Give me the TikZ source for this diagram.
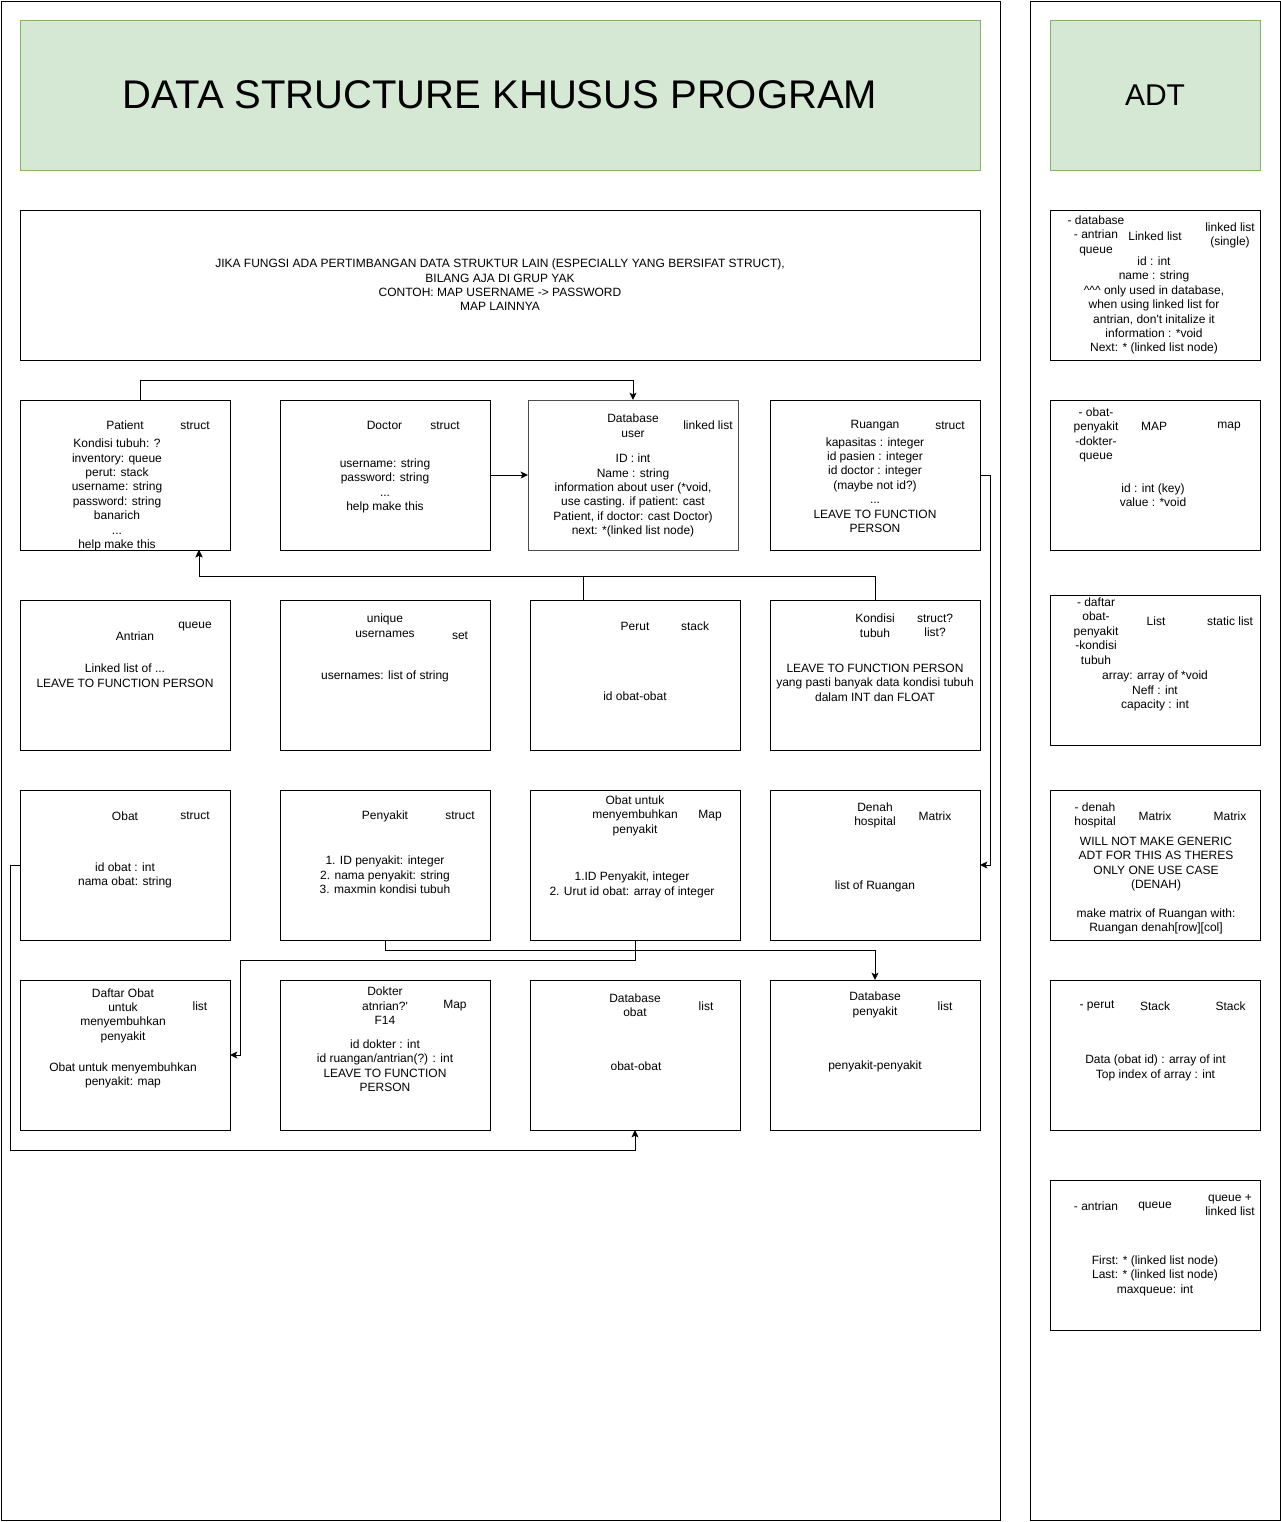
\documentclass[tikz,border=0pt]{standalone}
\usepackage{fontspec}
\setmainfont{Liberation Sans}
\usetikzlibrary{arrows.meta}
\definecolor{greenfill}{HTML}{D5E8D4}
\definecolor{greenline}{HTML}{82B366}
\begin{document}
\begin{tikzpicture}[x=0.75pt,y=-0.75pt,
  every node/.style={inner sep=0pt, outer sep=0pt},
  frame/.style={draw=black, line width=0.75pt},
  box/.style={draw=black, line width=0.75pt, minimum width=157.5pt, minimum height=112.5pt, anchor=north west},
  greenbox/.style={draw=greenline, fill=greenfill, line width=0.75pt, minimum height=112.5pt, anchor=north west},
  lbl/.style={font=\fontsize{9}{10.8}\selectfont, align=center},
  conn/.style={draw=black, line width=0.75pt, -{Stealth[length=5.5pt,width=5.2pt,inset=1.3pt]}}
]
\useasboundingbox (0,0) rectangle (1281,1522);
\fill[white] (0,0) rectangle (1281,1522);
% frames
\draw[frame] (1,1) rectangle (1000,1520);
\draw[frame] (1030,1) rectangle (1280,1520);
% headers
\node[greenbox, minimum width=720pt, font=\fontsize{30}{36}\selectfont] (title) at (20,20) {DATA STRUCTURE KHUSUS PROGRAM};
\node[greenbox, minimum width=157.5pt, font=\fontsize{22.5}{27}\selectfont] (adt) at (1050,20) {ADT};
\node[box, minimum width=720pt, lbl] (note) at (20,210) {JIKA FUNGSI ADA PERTIMBANGAN DATA STRUKTUR LAIN (ESPECIALLY YANG BERSIFAT STRUCT),\\BILANG AJA DI GRUP YAK\\CONTOH: MAP USERNAME -> PASSWORD\\MAP LAINNYA};
% grid boxes
\node[box] (patient) at (20,400) {};
\node[box] (doctor) at (280,400) {};
\node[box, draw=black!70] (dbuser) at (528,400) {};
\node[box] (ruangan) at (770,400) {};
\node[box] (antrian) at (20,600) {};
\node[box] (unique) at (280,600) {};
\node[box] (perut) at (530,600) {};
\node[box] (kondisi) at (770,600) {};
\node[box] (obat) at (20,790) {};
\node[box] (penyakit) at (280,790) {};
\node[box] (obatmap) at (530,790) {};
\node[box] (denah) at (770,790) {};
\node[box] (daftar) at (20,980) {};
\node[box] (dokter) at (280,980) {};
\node[box] (dbobat) at (530,980) {};
\node[box] (dbpenyakit) at (770,980) {};
% ADT boxes
\node[box] (a1) at (1050,210) {};
\node[box] (a2) at (1050,400) {};
\node[box] (a3) at (1050,595) {};
\node[box] (a4) at (1050,790) {};
\node[box] (a5) at (1050,980) {};
\node[box] (a6) at (1050,1180) {};
% texts row 1
\node[lbl] (patient-n) at (125,425.5) {Patient};
\node[lbl] (patient-k) at (195,425.5) {struct};
\node[lbl] (patient-b) at (117,495) {Kondisi tubuh: ?\\inventory: queue\\perut: stack\\username: string\\password: string\\banarich\\...\\help make this};
\node[lbl] (doctor-n) at (384.5,425.5) {Doctor};
\node[lbl] (doctor-k) at (445,425.5) {struct};
\node[lbl] (doctor-b) at (385,486) {username: string\\password: string\\...\\help make this};
\node[lbl] (dbuser-n) at (633,425.5) {Database\\user};
\node[lbl] (dbuser-k) at (708,425.5) {linked list};
\node[lbl] (dbuser-b) at (633,495.5) {ID : int\\Name : string\\information about user (*void,\\use casting. if patient: cast\\Patient, if doctor: cast Doctor)\\next: *(linked list node)};
\node[lbl] (ruangan-n) at (875,425.5) {Ruangan};
\node[lbl] (ruangan-k) at (950,425.5) {struct};
\node[lbl] (ruangan-b) at (875,485) {kapasitas : integer\\id pasien : integer\\id doctor : integer\\(maybe not id?)\\...\\LEAVE TO FUNCTION\\PERSON};
% row 2
\node[lbl] (antrian-k) at (195,626.5) {queue};
\node[lbl] (antrian-n) at (135,636) {Antrian};
\node[lbl] (antrian-b) at (125,675.5) {Linked list of ...\\LEAVE TO FUNCTION PERSON};
\node[lbl] (unique-n) at (385,625.5) {unique\\usernames};
\node[lbl] (unique-k) at (460,636) {set};
\node[lbl] (unique-b) at (385,676) {usernames: list of string};
\node[lbl] (perut-n) at (635,626) {Perut};
\node[lbl] (perut-k) at (695,626) {stack};
\node[lbl] (perut-b) at (635,696) {id obat-obat};
\node[lbl] (kondisi-n) at (875,625.5) {Kondisi\\tubuh};
\node[lbl] (kondisi-k) at (935,625.5) {struct?\\list?};
\node[lbl] (kondisi-b) at (875,682.5) {LEAVE TO FUNCTION PERSON\\yang pasti banyak data kondisi tubuh\\dalam INT dan FLOAT};
% row 3
\node[lbl] (obat-n) at (125,816) {Obat};
\node[lbl] (obat-k) at (195,816) {struct};
\node[lbl] (obat-b) at (125,875.5) {id obat : int\\nama obat: string};
\node[lbl] (penyakit-n) at (385,816) {Penyakit};
\node[lbl] (penyakit-k) at (460,816) {struct};
\node[lbl] (penyakit-b) at (385,875) {1. ID penyakit: integer\\2. nama penyakit: string\\3. maxmin kondisi tubuh};
\node[lbl] (obatmap-n) at (635,815.5) {Obat untuk\\menyembuhkan\\penyakit};
\node[lbl] (obatmap-k) at (710,816) {Map};
\node[lbl] (obatmap-b) at (632,885) {1.ID Penyakit, integer\\2. Urut id obat: array of integer};
\node[lbl] (denah-n) at (875,815.5) {Denah\\hospital};
\node[lbl] (denah-k) at (935,816) {Matrix};
\node[lbl] (denah-b) at (875,886) {list of Ruangan};
% row 4
\node[lbl] (daftar-n) at (123,1015.5) {Daftar Obat\\untuk\\menyembuhkan\\penyakit};
\node[lbl] (daftar-k) at (200,1006) {list};
\node[lbl] (daftar-b) at (123,1075.5) {Obat untuk menyembuhkan\\penyakit: map};
\node[lbl] (dokter-n) at (385,1006) {Dokter\\atnrian?\textquotesingle\\F14};
\node[lbl] (dokter-k) at (455,1006) {Map};
\node[lbl] (dokter-b) at (385,1065.5) {id dokter : int\\id ruangan/antrian(?) : int\\LEAVE TO FUNCTION\\PERSON};
\node[lbl] (dbobat-n) at (635,1005) {Database\\obat};
\node[lbl] (dbobat-k) at (706,1006) {list};
\node[lbl] (dbobat-b) at (636,1066) {obat-obat};
\node[lbl] (dbpenyakit-n) at (875,1005) {Database\\penyakit};
\node[lbl] (dbpenyakit-k) at (945,1006) {list};
\node[lbl] (dbpenyakit-b) at (875,1066) {penyakit-penyakit};
% ADT texts
\node[lbl] (a1-u) at (1096,235.5) {- database\\- antrian\\queue};
\node[lbl] (a1-n) at (1155,236) {Linked list};
\node[lbl] (a1-k) at (1230,235.5) {linked list\\(single)};
\node[lbl] (a1-b) at (1154,305.5) {id : int\\name : string\\\textasciicircum\textasciicircum\textasciicircum{} only used in database,\\when using linked list for\\antrian, don\textquotesingle t initalize it\\information : *void\\Next: * (linked list node)};
\node[lbl] (a2-u) at (1096,435) {- obat-\\penyakit\\-dokter-\\queue};
\node[lbl] (a2-n) at (1154,426.5) {MAP};
\node[lbl] (a2-k) at (1229,426.5) {map};
\node[lbl] (a2-b) at (1153,495) {id : int (key)\\value : *void};
\node[lbl] (a3-u) at (1096,631) {- daftar\\obat-\\penyakit\\-kondisi\\tubuh};
\node[lbl] (a3-n) at (1156,621) {List};
\node[lbl] (a3-k) at (1230,621) {static list};
\node[lbl] (a3-b) at (1155,691) {array: array of *void\\Neff : int\\capacity : int};
\node[lbl] (a4-u) at (1095,815.5) {- denah\\hospital};
\node[lbl] (a4-n) at (1155,816) {Matrix};
\node[lbl] (a4-k) at (1230,816) {Matrix};
\node[lbl] (a4-b) at (1156,885.5) {WILL NOT MAKE GENERIC\\ADT FOR THIS AS THERES\\ONLY ONE USE CASE\\(DENAH)\\[10.8pt]make matrix of Ruangan with:\\Ruangan denah[row][col]};
\node[lbl] (a5-u) at (1097,1006) {- perut};
\node[lbl] (a5-n) at (1155,1006) {Stack};
\node[lbl] (a5-k) at (1230.5,1006) {Stack};
\node[lbl] (a5-b) at (1155.5,1068) {Data (obat id) : array of int\\Top index of array : int};
\node[lbl] (a6-u) at (1096,1206) {- antrian};
\node[lbl] (a6-n) at (1155,1206) {queue};
\node[lbl] (a6-k) at (1230,1205) {queue +\\linked list};
\node[lbl] (a6-b) at (1155,1275.5) {First: * (linked list node)\\Last: * (linked list node)\\maxqueue: int};
% connectors
\draw[conn] ([xshift=11.25pt]patient.north) -- ++(0,-20) -| (dbuser.north);
\draw[conn] (doctor.east) -- (dbuser.west);
\draw[conn] ([xshift=-39pt]perut.north) -- ++(0,-24) -| ([xshift=55.5pt]patient.south);
\draw[conn] (kondisi.north) -- ++(0,-24) -| ([xshift=55.5pt]patient.south);
\draw[conn] (ruangan.east) -- ++(10,0) |- (denah.east);
\draw[conn] (obat.west) -- ++(-10,0) -- ++(0,285) -| (dbobat.south);
\draw[conn] (penyakit.south) -- ++(0,10) -| (dbpenyakit.north);
\draw[conn] (obatmap.south) -- ++(0,20) -- ++(-395,0) |- (daftar.east);
\end{tikzpicture}
\end{document}
